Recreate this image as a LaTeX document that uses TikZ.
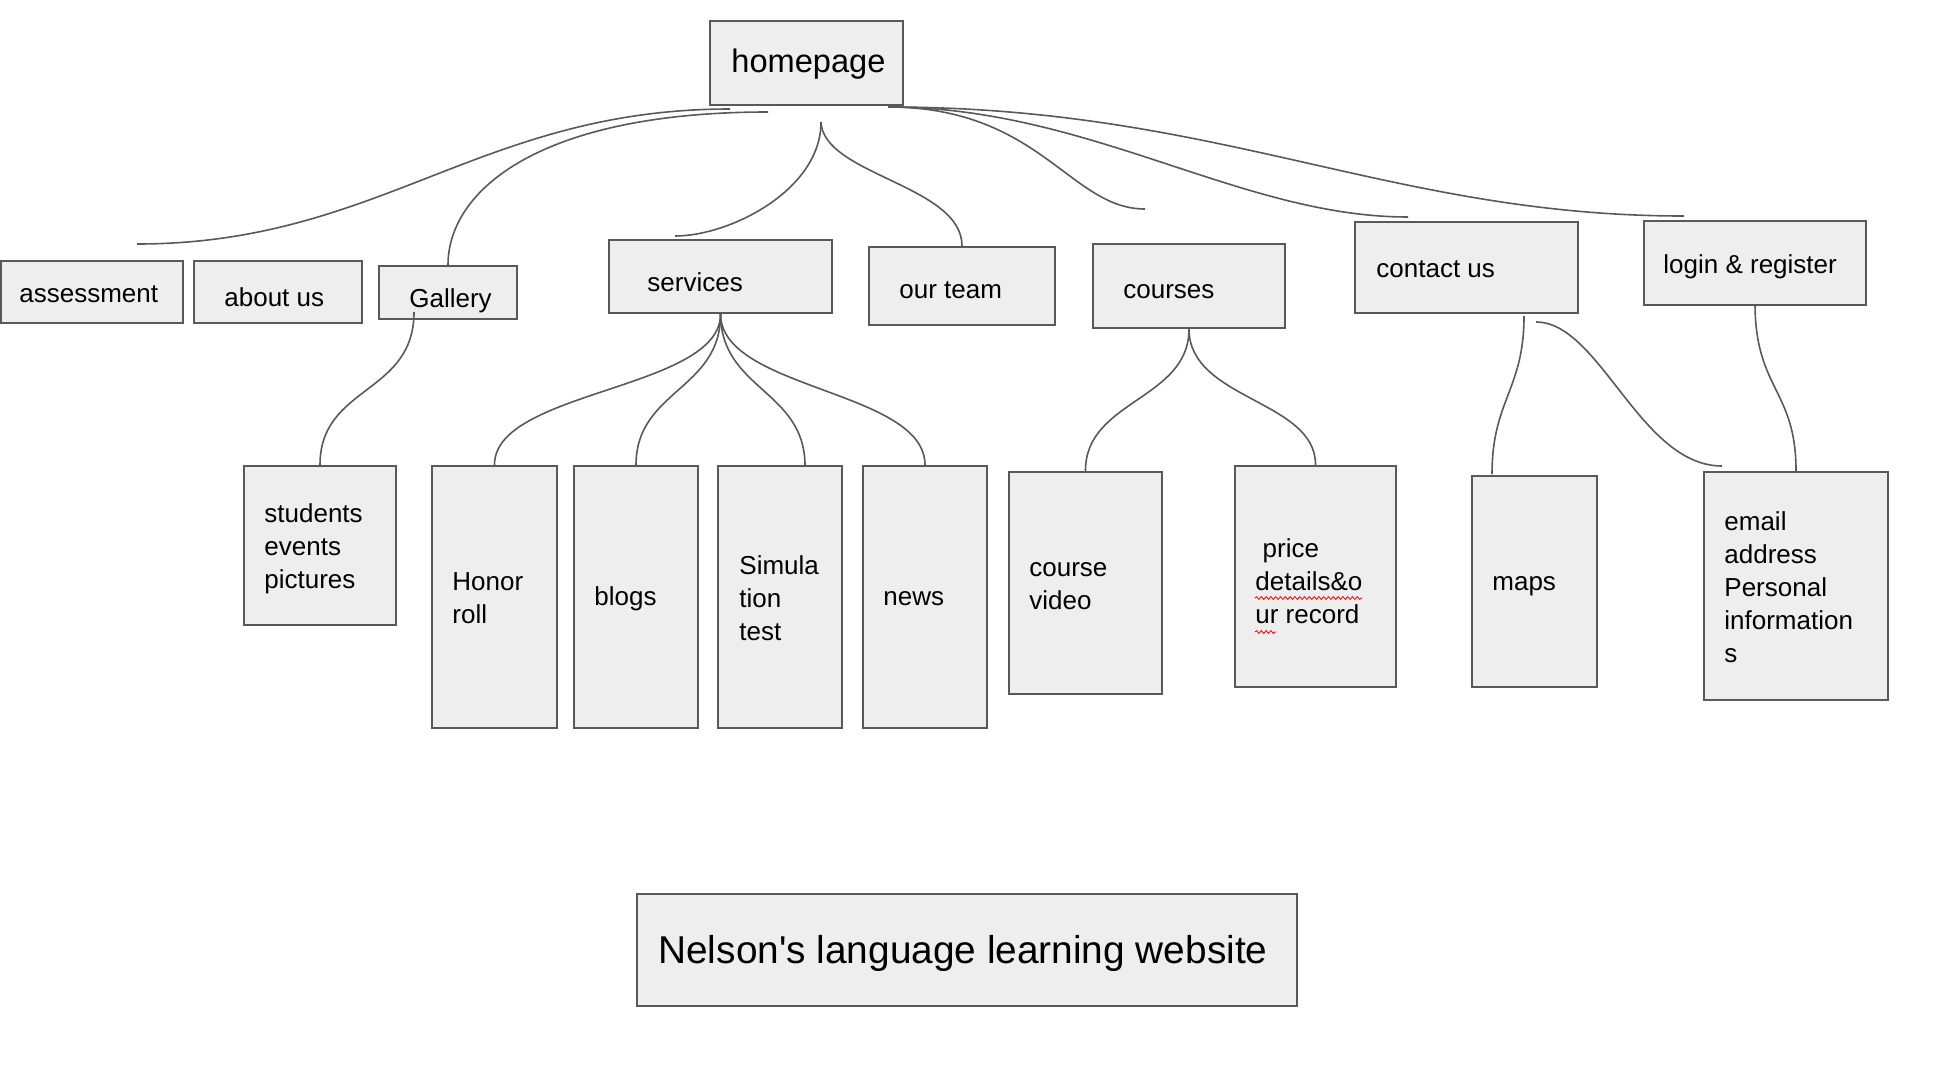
\documentclass[tikz,border=0pt]{standalone}
\usepackage{fontspec}
\setmainfont{Liberation Sans}
\newfontfamily\titlefont{Liberation Sans}
\usetikzlibrary{fit,calc,decorations.pathmorphing}
\definecolor{boxfill}{HTML}{EEEEEE}
\definecolor{edgegray}{HTML}{595959}
\newcommand{\mylines}[1]{\begin{tabular}[t]{@{}l@{}}#1\end{tabular}}
\begin{document}
\begin{tikzpicture}[x=0.5pt,y=-0.5pt,
  box/.style={draw=edgegray, fill=boxfill, line width=1pt, inner sep=0pt, rectangle},
  lbl/.style={anchor=base west, inner sep=0pt, font=\fontsize{13}{16.5}\selectfont, text=black},
  conn/.style={draw=edgegray, line width=0.8pt},
  spell/.style={draw=red, line width=0.4pt, decorate, decoration={snake, amplitude=0.7pt, segment length=2.4pt}}
]
\useasboundingbox (0,0) rectangle (1958,1066);

% boxes
\node[box, fit={(710,21) (903,105)}] (home) {};
\node[box, fit={(1,261) (183,323)}] (assess) {};
\node[box, fit={(194,261) (362,323)}] (about) {};
\node[box, fit={(379,266) (517,319)}] (gallery) {};
\node[box, fit={(609,240) (832,313)}] (services) {};
\node[box, fit={(869,247) (1055,325)}] (team) {};
\node[box, fit={(1093,244) (1285,328)}] (courses) {};
\node[box, fit={(1355,222) (1578,313)}] (contact) {};
\node[box, fit={(1644,221) (1866,305)}] (login) {};
\node[box, fit={(244,466) (396,625)}] (students) {};
\node[box, fit={(432,466) (557,728)}] (honor) {};
\node[box, fit={(574,466) (698,728)}] (blogs) {};
\node[box, fit={(718,466) (842,728)}] (sim) {};
\node[box, fit={(863,466) (987,728)}] (news) {};
\node[box, fit={(1009,472) (1162,694)}] (video) {};
\node[box, fit={(1235,466) (1396,687)}] (price) {};
\node[box, fit={(1472,476) (1597,687)}] (maps) {};
\node[box, fit={(1704,472) (1888,700)}] (email) {};
\node[box, fit={(637,894) (1297,1006)}] (title) {};

% labels
\node[lbl, font=\fontsize{16.3}{20}\selectfont] (t-home) at (731,72) {homepage};
\node[lbl] (t-assess) at (19,302) {assessment};
\node[lbl] (t-about) at (224,306) {about us};
\node[lbl] (t-gallery) at (409,307) {Gallery};
\node[lbl] (t-services) at (647,291) {services};
\node[lbl] (t-team) at (899,298) {our team};
\node[lbl] (t-courses) at (1123,298) {courses};
\node[lbl] (t-contact) at (1376,277) {contact us};
\node[lbl] (t-login) at (1663,273) {login \& register};
\node[lbl] (t-students) at (264,522) {\mylines{students\\events\\pictures}};
\node[lbl] (t-honor) at (452,590) {\mylines{Honor\\roll}};
\node[lbl] (t-blogs) at (594,605) {blogs};
\node[lbl] (t-sim) at (739,574) {\mylines{Simula\\tion\\test}};
\node[lbl] (t-news) at (883,605) {news};
\node[lbl] (t-video) at (1029,576) {\mylines{course\\video}};
\node[lbl] (t-price) at (1255,557) {\mylines{~price\\details\&o\\ur record}};
\node[lbl] (t-maps) at (1492,590) {maps};
\node[lbl] (t-email) at (1724,530) {\mylines{email\\address\\Personal\\information\\s}};
\node[lbl, font=\titlefont\fontsize{19.4}{24}\selectfont] (t-title) at (658,963) {Nelson's language learning website};

% spell-check underlines
\coordinate (sp1a) at (1255,598); \coordinate (sp1b) at (1362,598);
\coordinate (sp2a) at (1255,632); \coordinate (sp2b) at (1276,632);
\draw[spell] (sp1a) -- (sp1b);
\draw[spell] (sp2a) -- (sp2b);

% free connector ends
\coordinate (hA) at (730,109);
\coordinate (aE) at (137,244);
\coordinate (hG) at (768,112);
\coordinate (hS) at (821,122);
\coordinate (sE) at (675,236);
\coordinate (hR) at (888,107);
\coordinate (cE) at (1145,209);
\coordinate (ctE) at (1408,217);
\coordinate (lE) at (1684,216);
\coordinate (gS) at (414,312);
\coordinate (simTop) at (805,466);
\coordinate (cM) at (1524,316);
\coordinate (mapsTop) at (1492,474);
\coordinate (cR) at (1536,322);
\coordinate (eL) at (1722,466);

% connectors from homepage
\draw[conn] (hA) .. controls (480,109) and (380,244) .. (aE);
\draw[conn] (hG) .. controls (540,112) and (448,190) .. (gallery.north);
\draw[conn] (hS) .. controls (821,190) and (730,236) .. (sE);
\draw[conn] (hS) .. controls (823,175) and (962,185) .. (team.north);
\draw[conn] (hR) .. controls (1040,107) and (1070,209) .. (cE);
\draw[conn] (hR) .. controls (1090,107) and (1240,217) .. (ctE);
\draw[conn] (hR) .. controls (1220,107) and (1390,216) .. (lE);

% second level
\draw[conn] (gS) .. controls (414,395) and (320,385) .. (students.north);
\draw[conn] (services.south) .. controls (721,390) and (494,390) .. (honor.north);
\draw[conn] (services.south) .. controls (721,390) and (636,390) .. (blogs.north);
\draw[conn] (services.south) .. controls (721,390) and (805,390) .. (simTop);
\draw[conn] (services.south) .. controls (721,390) and (925,390) .. (news.north);
\draw[conn] (courses.south) .. controls (1189,400) and (1085,400) .. (video.north);
\draw[conn] (courses.south) .. controls (1189,400) and (1316,400) .. (price.north);
\draw[conn] (cM) .. controls (1524,390) and (1492,400) .. (mapsTop);
\draw[conn] (cR) .. controls (1600,322) and (1640,466) .. (eL);
\draw[conn] (login.south) .. controls (1756,390) and (1796,390) .. (email.north);
\end{tikzpicture}
\end{document}
